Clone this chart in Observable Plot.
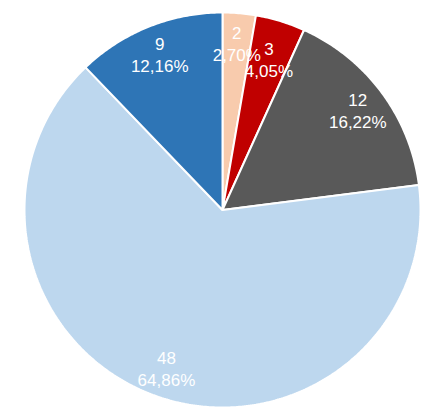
<!DOCTYPE html>
<html>
<head>
<meta charset="utf-8">
<script src="https://cdn.jsdelivr.net/npm/d3@7"></script>
<script src="https://cdn.jsdelivr.net/npm/@observablehq/plot@0.6"></script>
<style>
  html, body { margin: 0; padding: 0; background: #ffffff; }
</style>
</head>
<body>
<div id="chart"></div>
<script>
const categories = ["A", "B", "C", "D", "E"];
const values = [2, 3, 12, 48, 9];
const percentLabels = ["2,70%", "4,05%", "16,22%", "64,86%", "12,16%"];
const colors = ["#f8cbad", "#c00000", "#595959", "#bdd7ee", "#2e75b6"];

const W = 433, H = 407, mL = 24, mR = 13, mT = 12, mB = 0;
const fontSize = 17, lineH = 1.3;

const arcs = d3.pie().sort(null).value(d => d)(values);

// outline points of each wedge in unit-circle data space (angle 0 = top, clockwise)
function wedge(a0, a1) {
  const pts = [[0, 0]];
  const n = Math.max(2, Math.ceil((a1 - a0) / 0.01));
  for (let i = 0; i <= n; i++) {
    const a = a0 + (a1 - a0) * i / n;
    pts.push([Math.sin(a), Math.cos(a)]);
  }
  pts.push([0, 0]);
  return pts;
}

// label placement with simple collision avoidance (pull inward until lines don't overlap)
const sx = (W - mL - mR) / 2, sy = (H - mT - mB) / 2;
function lineBoxes(x, y, lines) {
  const px = mL + sx * (x + 1), py = mT + sy * (1 - y);
  const lh = fontSize * lineH;
  return lines.map((t, k) => {
    const w = t.length * fontSize * 0.56;
    const cy = py + (k - (lines.length - 1) / 2) * lh;
    return { x0: px - w / 2, x1: px + w / 2, y0: cy - fontSize * 0.45, y1: cy + fontSize * 0.45 };
  });
}
const hit = (a, b) => a.x0 < b.x1 && b.x0 < a.x1 && a.y0 < b.y1 && b.y0 < a.y1;
const placed = [];
const labels = arcs.map((a, i) => {
  const m = (a.startAngle + a.endAngle) / 2;
  const lines = [String(values[i]), percentLabels[i]];
  let r = 0.85, x, y, boxes;
  for (;;) {
    x = r * Math.sin(m); y = r * Math.cos(m);
    boxes = lineBoxes(x, y, lines);
    if (r < 0.4 || !boxes.some(b => placed.some(p => hit(b, p)))) break;
    r -= 0.01;
  }
  placed.push(...boxes);
  return { x, y, text: lines.join("\n") };
});

const marks = arcs.map((a, i) =>
  Plot.line(wedge(a.startAngle, a.endAngle), {
    x: d => d[0], y: d => d[1],
    fill: colors[i], stroke: "#ffffff", strokeWidth: 2, strokeLinejoin: "miter", curve: "linear"
  })
);
marks.push(Plot.text(labels, {
  x: "x", y: "y", text: "text",
  fill: "#ffffff", fontSize, lineHeight: lineH,
  fontFamily: "'Liberation Sans', Arial, sans-serif",
  textAnchor: "middle", lineAnchor: "middle"
}));

const chart = Plot.plot({
  width: W,
  height: H,
  marginLeft: mL,
  marginRight: mR,
  marginTop: mT,
  marginBottom: mB,
  x: { domain: [-1, 1], axis: null },
  y: { domain: [-1, 1], axis: null },
  style: { background: "#ffffff", overflow: "hidden" },
  marks
});
document.getElementById("chart").appendChild(chart);
</script>
</body>
</html>
